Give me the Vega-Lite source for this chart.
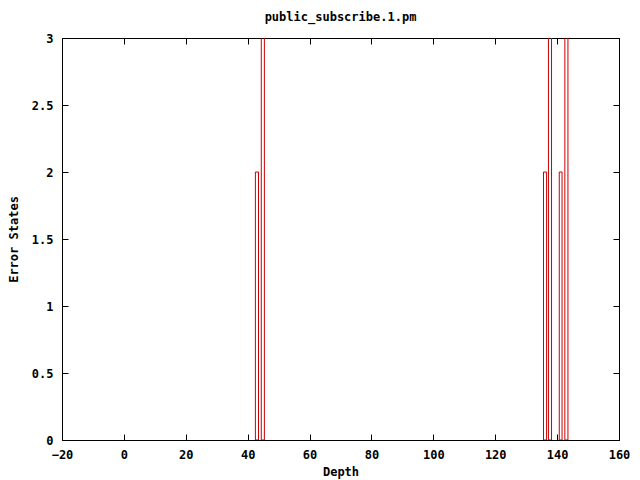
{
  "$schema": "https://vega.github.io/schema/vega-lite/v6.json",
  "autosize": {"type": "none"},
  "width": 557,
  "height": 402,
  "padding": {"left": 62, "top": 38, "right": 21, "bottom": 40},
  "background": "white",
  "config": {
    "view": {"stroke": "black", "strokeWidth": 1},
    "font": "DejaVu Sans Mono",
    "axis": {
      "labelFont": "DejaVu Sans Mono", "labelFontSize": 12, "labelFontWeight": "bold", "labelColor": "black",
      "titleFont": "DejaVu Sans Mono", "titleFontSize": 12, "titleFontWeight": "bold", "titleColor": "black",
      "grid": false, "domainColor": "black", "tickColor": "black", "tickSize": -6, "tickWidth": 1
    }
  },
  "title": {"text": "public_subscribe.1.pm", "font": "DejaVu Sans Mono", "fontSize": 12, "fontWeight": "bold", "color": "black", "anchor": "middle", "frame": "group", "offset": 8},
  "data": {"values": [
    {"x0": 42.5, "x1": 43.5, "y": 2},
    {"x0": 44.4, "x1": 45.4, "y": 3.5},
    {"x0": 135.6, "x1": 136.6, "y": 2},
    {"x0": 137.2, "x1": 138.2, "y": 3.5},
    {"x0": 140.7, "x1": 141.6, "y": 2},
    {"x0": 142.5, "x1": 143.5, "y": 3.5}
  ]},
  "layer": [
    {
      "mark": {"type": "rect", "fill": null, "fillOpacity": 0, "stroke": "#cc0000", "strokeWidth": 1, "clip": true},
      "encoding": {
        "x": {"field": "x0", "type": "quantitative", "scale": {"domain": [-20, 160], "nice": false, "zero": false},
              "axis": {"title": "Depth", "values": [-20,0,20,40,60,80,100,120,140,160], "labelPadding": 15, "titlePadding": 6, "labelFlush": false}},
        "x2": {"field": "x1"},
        "y": {"field": "y", "type": "quantitative", "scale": {"domain": [0, 3], "nice": false},
              "axis": {"title": "Error States", "values": [0,0.5,1,1.5,2,2.5,3], "labelPadding": 15, "titlePadding": 11, "labelFlush": false, "format": "~g"}},
        "y2": {"datum": 0}
      }
    },
    {
      "mark": {"type": "rect", "opacity": 0, "clip": true},
      "encoding": {
        "x": {"field": "x0", "type": "quantitative", "axis": {"orient": "top", "labels": false, "title": null, "values": [-20,0,20,40,60,80,100,120,140,160]}},
        "x2": {"field": "x1"},
        "y": {"field": "y", "type": "quantitative", "axis": {"orient": "right", "labels": false, "title": null, "values": [0,0.5,1,1.5,2,2.5,3]}},
        "y2": {"datum": 0}
      }
    }
  ],
  "resolve": {"axis": {"x": "independent", "y": "independent"}}
}
